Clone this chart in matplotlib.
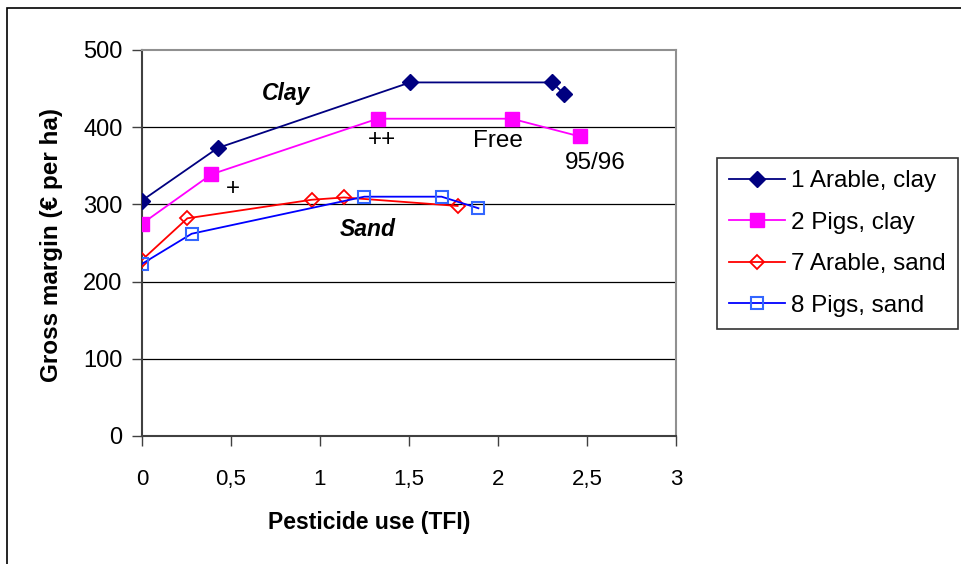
import matplotlib
matplotlib.use("Agg")
import matplotlib.pyplot as plt
from matplotlib.patches import Rectangle

plt.rcParams['font.family'] = ['Liberation Sans', 'DejaVu Sans']

# Data
x_arable_clay = [0, 0.425, 1.506, 2.305, 2.371]
y_arable_clay = [305, 373, 458, 458, 443]
x_pigs_clay = [0, 0.39, 1.324, 2.077, 2.46]
y_pigs_clay = [275, 339, 411, 411, 388]
x_arable_sand = [0, 0.255, 0.953, 1.135, 1.773]
y_arable_sand = [228, 282, 306, 309, 298]
x_pigs_sand = [0, 0.279, 1.249, 1.683, 1.89]
y_pigs_sand = [223, 262, 310, 310, 295]
labels = ["1 Arable, clay", "2 Pigs, clay", "7 Arable, sand", "8 Pigs, sand"]
xticks = [0, 0.5, 1, 1.5, 2, 2.5, 3]
xticklabels = ["0", "0,5", "1", "1,5", "2", "2,5", "3"]
yticks = [0, 100, 200, 300, 400, 500]

fig = plt.figure(figsize=(9.62, 5.64), dpi=100)
W, H = 962, 564
ax = fig.add_axes([142 / W, 1 - 436 / H, (676 - 142) / W, (436 - 50) / H])

# Outer chart frame
fig.patches.append(Rectangle((7 / W, -0.1), 1.2, 1 - 8 / H + 0.1, transform=fig.transFigure,
                             fill=False, edgecolor='black', linewidth=1.2))

for yv in [100, 200, 300, 400]:
    ax.axhline(yv, color='black', linewidth=0.9, zorder=1)

ax.plot(x_arable_clay, y_arable_clay, color='#000080', marker='D', markersize=8,
        markerfacecolor='#000080', markeredgecolor='#000080', linewidth=1.3, label=labels[0], zorder=3)
ax.plot(x_pigs_clay, y_pigs_clay, color='#FF00FF', marker='s', markersize=9.5,
        markerfacecolor='#FF00FF', markeredgecolor='#FF00FF', linewidth=1.3, label=labels[1], zorder=3)
ax.plot(x_arable_sand, y_arable_sand, color='#FF0000', marker='D', markersize=7.5,
        markerfacecolor='none', markeredgecolor='#FF0000', markeredgewidth=1.3, linewidth=1.3,
        label=labels[2], zorder=3)
ax.plot(x_pigs_sand, y_pigs_sand, color='#0000FF', marker='s', markersize=8.5,
        markerfacecolor='none', markeredgecolor='#3366FF', markeredgewidth=1.5, linewidth=1.3,
        label=labels[3], zorder=3)

ax.set_xlim(0, 3)
ax.set_ylim(0, 500)
ax.set_xticks(xticks)
ax.set_xticklabels(xticklabels)
ax.set_yticks(yticks)
ax.tick_params(axis='both', direction='out', length=7, width=1, color='#404040')
ax.tick_params(axis='x', pad=28, labelsize=16)
ax.tick_params(axis='y', pad=7, labelsize=17)
for lab in ax.get_xticklabels():
    lab.set_verticalalignment('baseline')

for s in ['top', 'right']:
    ax.spines[s].set_color('#909090')
    ax.spines[s].set_linewidth(1.5)
for s in ['left', 'bottom']:
    ax.spines[s].set_color('#404040')
    ax.spines[s].set_linewidth(1.5)

fig.text(369 / W, 1 - 522 / H, "Pesticide use (TFI)", fontsize=16.5, fontweight='bold',
         ha='center', va='center')
fig.text(52 / W, 1 - 245 / H, "Gross margin (€ per ha)", fontsize=17.5, fontweight='bold',
         ha='center', va='center', rotation=90)

ax.text(0.807, 444, "Clay", fontsize=16.5, fontweight='bold', fontstyle='italic', ha='center', va='center')
ax.text(1.27, 267, "Sand", fontsize=16.5, fontweight='bold', fontstyle='italic', ha='center', va='center')
ax.text(1.346, 383, "++", fontsize=17.5, ha='center', va='center')
ax.text(2.0, 382, "Free", fontsize=17.5, ha='center', va='center')
ax.text(2.549, 353, "95/96", fontsize=17.5, ha='center', va='center')
ax.text(0.513, 320, "+", fontsize=17.5, ha='center', va='center')

leg = fig.legend(loc='upper left', bbox_to_anchor=(717 / W, 1 - 158 / H), fontsize=17.5,
                 frameon=True, fancybox=False, edgecolor='black', handlelength=2.3,
                 handletextpad=0.25, borderpad=0.5, labelspacing=0.8, borderaxespad=0)
leg.get_frame().set_linewidth(1.2)

fig.savefig("out.png", dpi=100)
